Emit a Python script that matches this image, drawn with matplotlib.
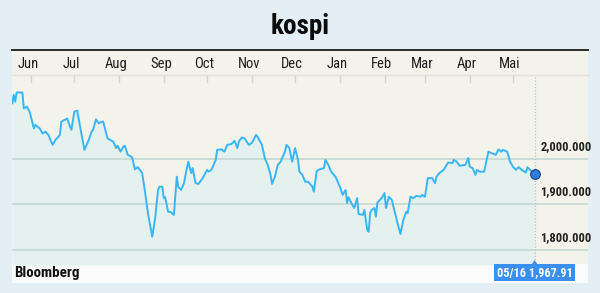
import numpy as np
import pandas as pd
import matplotlib
matplotlib.use('Agg')
import matplotlib.pyplot as plt
from matplotlib import font_manager
from matplotlib.patches import Rectangle, Polygon
from matplotlib.transforms import blended_transform_factory


# Data: days after 2012-06-01 and index level
start = pd.Timestamp('2012-06-01')
days = [-13, -12, -11, -10, -6, -5, -3, -1, 2, 3, 6, 8, 10, 12, 13, 15, 17, 20, 21, 24,
        25, 27, 28, 30, 32, 34, 37, 40, 42, 43, 45, 47, 49, 50, 53, 57, 59, 60, 62, 64,
        65, 67, 70, 72, 74, 77, 79, 81, 84, 86, 88, 89, 91, 92, 93, 95, 97, 99, 101, 102,
        104, 106, 108, 109, 111, 112, 114, 116, 119, 122, 123, 125, 128, 129, 132, 134, 136, 139, 141, 143,
        144, 146, 148, 151, 153, 156, 158, 160, 162, 164, 166, 167, 169, 171, 173, 174, 176, 177, 179, 181,
        183, 185, 186, 188, 190, 192, 195, 196, 198, 200, 203, 204, 206, 208, 211, 214, 216, 218, 219, 220,
        222, 224, 226, 227, 230, 231, 233, 234, 235, 236, 238, 239, 240, 243, 245, 246, 248, 250, 252, 254,
        256, 258, 260, 261, 263, 265, 267, 270, 271, 273, 275, 278, 280, 281, 283, 286, 289, 292, 293, 295,
        297, 301, 303, 304, 306, 308, 309, 311, 314, 317, 319, 322, 324, 326, 327, 330, 332, 334, 336, 338,
        340, 343, 344, 347, 349]
values = [2122, 2141, 2126, 2146, 2146, 2111, 2115, 2104, 2067, 2075, 2067, 2056, 2060, 2053, 2045, 2031, 2042, 2053, 2082, 2087,
          2089, 2071, 2064, 2104, 2106, 2071, 2020, 2042, 2060, 2064, 2087, 2078, 2082, 2082, 2045, 2038, 2024, 2029, 2016, 2027,
          2029, 2009, 2004, 1977, 1982, 1969, 1928, 1881, 1829, 1870, 1932, 1939, 1939, 1914, 1916, 1884, 1883, 1877, 1961, 1939,
          1932, 1947, 1980, 1994, 1969, 1980, 1947, 1945, 1958, 1976, 1972, 1976, 1998, 2020, 2021, 2016, 2031, 2033, 2040, 2024,
          2038, 2047, 2045, 2031, 2035, 2053, 2043, 2031, 2002, 1987, 1965, 1945, 1961, 1987, 1994, 2002, 2016, 2031, 2024, 1994,
          2024, 1998, 1972, 1965, 1950, 1950, 1939, 1928, 1974, 1977, 1980, 1998, 1987, 1972, 1961, 1939, 1921, 1932, 1903, 1916,
          1903, 1892, 1914, 1879, 1877, 1888, 1844, 1840, 1881, 1888, 1892, 1873, 1904, 1914, 1925, 1892, 1917, 1910, 1884, 1859,
          1835, 1866, 1884, 1881, 1917, 1914, 1919, 1917, 1921, 1917, 1958, 1958, 1947, 1961, 1969, 1976, 1992, 1991, 1998, 1994,
          1985, 1987, 2002, 1983, 1980, 1965, 1976, 1972, 1972, 2016, 2013, 2009, 2021, 2016, 2020, 2016, 1994, 1983, 1976, 1982,
          1976, 1970, 1982, 1972, 1967.91]
months = ['Jun', 'Jul', 'Aug', 'Sep', 'Oct', 'Nov', 'Dec', 'Jan', 'Feb', 'Mar', 'Apr', 'Mai']
month_starts = pd.date_range('2012-06-01', periods=12, freq='MS')
yticks = [1800, 1900, 2000]
ytick_labels = ['1,800.000', '1,900.000', '2,000.000']
last_label = '05/16 1,967.91'

W, H = 600, 293

# Narrow font if one is installed, else DejaVu Sans
names = {f.name for f in font_manager.fontManager.ttflist}
font = 'DejaVu Sans'
for cand in ['Liberation Sans Narrow', 'Roboto Condensed', 'Open Sans Condensed', 'DejaVu Sans Condensed']:
  if cand in names:
    font = cand
    break
narrow = font != 'DejaVu Sans'
fs = 1.0 if narrow else 0.85
stretch = 'normal' if narrow else 'condensed'

fig = plt.figure(figsize=(6, 2.93), dpi=100)
fig.patch.set_facecolor('#e3eef5')


# Pixel box -> figure fraction
def box(x0, y0, x1, y1):
  return [x0 / W, 1 - y1 / H, (x1 - x0) / W, (y1 - y0) / H]


# Panel backgrounds
b = box(12, 49, 588, 265)
fig.patches.append(Rectangle((b[0], b[1]), b[2], b[3], transform=fig.transFigure,
                             facecolor='#f4f3eb', edgecolor='none', zorder=-5))
b = box(12, 264, 588, 283)
fig.patches.append(Rectangle((b[0], b[1]), b[2], b[3], transform=fig.transFigure,
                             facecolor='#fbfbfb', edgecolor='none', zorder=-5))
fig.add_artist(plt.Line2D([12 / W, 588 / W], [1 - 49.5 / H, 1 - 49.5 / H],
                          color='#2b2b2b', lw=1.4, transform=fig.transFigure, zorder=-4))
fig.add_artist(plt.Line2D([12 / W, 588 / W], [1 - 75.5 / H, 1 - 75.5 / H],
                          color='#e2e0d6', lw=1, transform=fig.transFigure, zorder=-4))

# Title
fig.text(0.5, 1 - 26 / H, 'kospi', ha='center', va='center', fontsize=19.5 * fs,
         fontweight='heavy', family=font, fontstretch=stretch, color='#0a0a0a')
fig.text(14 / W, 1 - 273.5 / H, 'Bloomberg', ha='left', va='center', fontsize=10.8 * fs,
         fontweight='bold', family=font, fontstretch=stretch, color='#111111')

# Main axes
ax = fig.add_axes(box(12, 82, 588, 265))
ax.set_facecolor('none')
ax.set_xlim(-13.2, 386)
ax.set_ylim(1767, 2169)
for s in ax.spines.values():
  s.set_visible(False)
ax.set_xticks([])
ax.set_yticks([])

x = np.array(days, dtype=float)
y = np.array(values, dtype=float)
ax.fill_between(x, y, 1767, color='#e4f1ef', lw=0, zorder=1)
for t in yticks:
  ax.axhline(t, color='#cadcd6', lw=1.4, zorder=2)
ax.plot(x, y, color='#38b6f4', lw=1.4, zorder=3, solid_joinstyle='round')
ax.axvline(x[-1], ymin=-0.02, ymax=1.03, color='#a9c8e8', lw=0.9, ls=(0, (1, 1.5)),
           zorder=2, clip_on=False)
ax.plot(x[-1], y[-1], 'o', ms=7, mfc='#2e7de0', mec='#1a3f86', mew=0.8, zorder=4)

# Y labels (right side, above gridlines)
for t, lab in zip(yticks, ytick_labels):
  ax.annotate(lab, (x[-1], t), xytext=(4, 4.5), textcoords='offset points',
              ha='left', va='bottom', fontsize=9 * fs, fontweight='bold',
              family=font, fontstretch=stretch, color='#222222')

# Month labels and ticks above axes
tr = blended_transform_factory(ax.transData, ax.transAxes)
mx = [(d - start).days for d in month_starts]
for m, lab in zip(mx, months):
  ax.text(m - 2, 1.098, lab, transform=tr, ha='center', va='center', fontsize=10.5 * fs,
          family=font, fontstretch=stretch, color='#1e1e1e')
  ax.plot([m, m], [1.0, 1.035], transform=tr, color='#d6d4ca', lw=1, clip_on=False)

# Last value label box
ax.annotate(last_label, (x[-1], 1767), xytext=(0, -5.4), textcoords='offset points',
            ha='center', va='center', fontsize=8.8 * fs, fontweight='bold', family=font,
            fontstretch=stretch, color='white', annotation_clip=False,
            bbox=dict(boxstyle='square,pad=0.2', fc='#3a8ff0', ec='none'))
xp = ax.transData.transform((x[-1], 1767))
tri = np.array([[xp[0] - 4, xp[1] - 1], [xp[0], xp[1] + 5], [xp[0] + 4, xp[1] - 1]])
fig.patches.append(Polygon(fig.transFigure.inverted().transform(tri), closed=True,
                           transform=fig.transFigure, fc='#3a8ff0', ec='none', zorder=5))

fig.savefig('out.png', dpi=100, facecolor=fig.get_facecolor())
